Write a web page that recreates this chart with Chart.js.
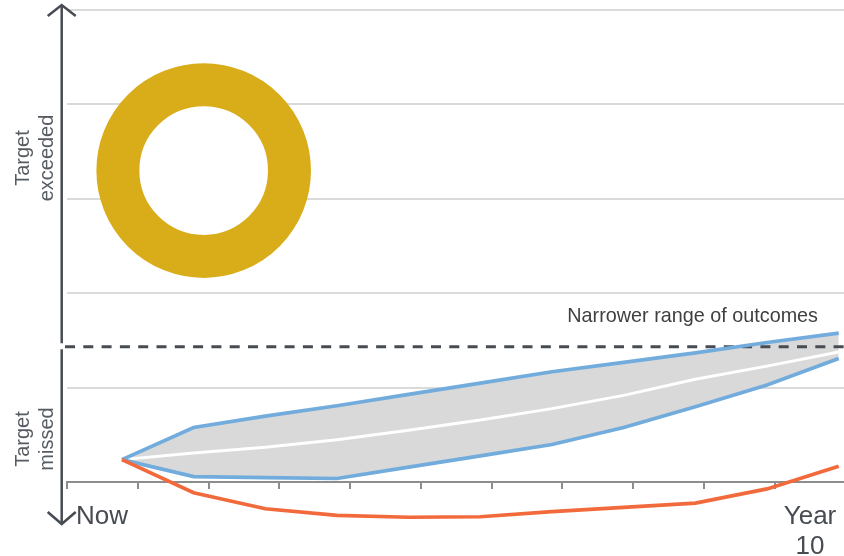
<!DOCTYPE html>
<html>
<head>
<meta charset="utf-8">
<script src="https://cdn.jsdelivr.net/npm/chart.js@4"></script>
<style>
  html, body { margin: 0; padding: 0; background: #ffffff; }
  #wrap { width: 844px; height: 556px; }
</style>
</head>
<body>
<div id="wrap"><canvas id="chart" width="844" height="556"></canvas></div>
<script>
// Years from now (0 = now, 10 = year 10)
const years = [0, 1, 2, 3, 4, 5, 6, 7, 8, 9, 10];

// Range of outcomes relative to the target (0 = baseline, higher = better)
const upperRange = [0.24, 0.58, 0.70, 0.81, 0.93, 1.05, 1.17, 1.27, 1.37, 1.48, 1.58];
const medianPath = [0.24, 0.31, 0.37, 0.45, 0.55, 0.66, 0.78, 0.92, 1.09, 1.23, 1.38];
const lowerRange = [0.24, 0.06, 0.05, 0.04, 0.16, 0.28, 0.40, 0.58, 0.80, 1.03, 1.31];
const shortfallPath = [0.24, -0.11, -0.28, -0.35, -0.37, -0.365, -0.31, -0.265, -0.22, -0.07, 0.17];

// Target level (dashed line)
const targetLevel = 1.435;

// Ring marker in the "exceeded" zone
const ringMarker = [{ x: 1.14, y: 3.30 }];

// Text
const yZoneLabels = [["Target", "exceeded"], ["Target", "missed"]];
const xEndLabels = [["Now"], ["Year", "10"]];
const rangeNote = "Narrower range of outcomes";

const FONT = "'Liberation Sans', Arial, Helvetica, sans-serif";
const AXIS_DARK = "#474c52";
const BLUE = "#72acdd";
const ORANGE = "#f26a3c";
const GOLD = "#d9ad19";
const BAND = "#d9d9d9";

const X_MIN = -0.767, X_MAX = 10.074, X_TICK_STEP = 0.9875;
const Y_MIN = -0.4415, Y_MAX = 5.053;

const decor = {
  id: 'decor',
  afterDatasetDraw(chart, args) {
    // dashed target line sits over the band fill, under the lines
    if (chart.data.datasets[args.index].label !== 'band') return;
    const { ctx, chartArea, scales } = chart;
    const y = scales.y.getPixelForValue(targetLevel);
    ctx.save();
    ctx.strokeStyle = AXIS_DARK;
    ctx.lineWidth = 3;
    ctx.setLineDash([10, 8.3]);
    ctx.beginPath();
    ctx.moveTo(chartArea.left - 2, y);
    ctx.lineTo(chart.width, y);
    ctx.stroke();
    ctx.restore();
  },
  afterDraw(chart) {
    const { ctx, chartArea, scales } = chart;
    const yT = scales.y.getPixelForValue(targetLevel);
    const ax = chartArea.left - 5.3;
    ctx.save();
    ctx.strokeStyle = AXIS_DARK;
    ctx.lineWidth = 2.5;
    ctx.lineCap = 'butt';
    // upper arrow
    ctx.beginPath();
    ctx.moveTo(ax, yT - 3.5);
    ctx.lineTo(ax, chartArea.top + 1);
    ctx.stroke();
    ctx.beginPath();
    ctx.moveTo(ax - 14, chartArea.top + 11);
    ctx.lineTo(ax, chartArea.top);
    ctx.lineTo(ax + 14, chartArea.top + 11);
    ctx.stroke();
    // lower arrow
    ctx.beginPath();
    ctx.moveTo(ax, yT + 2.5);
    ctx.lineTo(ax, chartArea.bottom - 1);
    ctx.stroke();
    ctx.beginPath();
    ctx.moveTo(ax - 14, chartArea.bottom - 12);
    ctx.lineTo(ax, chartArea.bottom);
    ctx.lineTo(ax + 14, chartArea.bottom - 12);
    ctx.stroke();

    // zone labels along the vertical axis
    ctx.fillStyle = "#575c62";
    ctx.font = "20px " + FONT;
    ctx.textAlign = 'center';
    ctx.textBaseline = 'middle';
    const zoneCenters = [158, 439];
    yZoneLabels.forEach((lines, i) => {
      ctx.save();
      ctx.translate(35, zoneCenters[i]);
      ctx.rotate(-Math.PI / 2);
      lines.forEach((t, j) => ctx.fillText(t, 0, (j - (lines.length - 1) / 2) * 24));
      ctx.restore();
    });

    // time labels under the axis
    ctx.fillStyle = AXIS_DARK;
    ctx.font = "26px " + FONT;
    ctx.textBaseline = 'alphabetic';
    ctx.textAlign = 'left';
    ctx.fillText(xEndLabels[0][0], chartArea.left + 9, 524);
    ctx.textAlign = 'center';
    xEndLabels[1].forEach((t, j) => ctx.fillText(t, chartArea.right - 34, 524 + j * 30));

    // note above the target line
    ctx.fillStyle = "#3f3f3f";
    ctx.font = "19.8px " + FONT;
    ctx.textAlign = 'right';
    ctx.textBaseline = 'middle';
    ctx.fillText(rangeNote, chartArea.right - 26, yT - 30);
    ctx.restore();
  }
};

const toXY = arr => arr.map((v, i) => ({ x: years[i], y: v }));

new Chart(document.getElementById('chart'), {
  type: 'line',
  data: {
    datasets: [
      { label: 'shortfall', data: toXY(shortfallPath), borderColor: ORANGE, borderWidth: 3.7, order: 0 },
      { label: 'upper', data: toXY(upperRange), borderColor: BLUE, borderWidth: 3.7, order: 1 },
      { label: 'lower', data: toXY(lowerRange), borderColor: BLUE, borderWidth: 3.7, order: 1 },
      { label: 'median', data: toXY(medianPath), borderColor: '#ffffff', borderWidth: 3, order: 2 },
      { label: 'band', data: toXY(upperRange), borderWidth: 0, borderColor: 'rgba(0,0,0,0)',
        backgroundColor: BAND, fill: 2, order: 3 },
      { label: 'ring', type: 'scatter', data: ringMarker, pointStyle: 'circle', pointRadius: 85.8,
        pointBackgroundColor: '#ffffff', pointBorderColor: GOLD, pointBorderWidth: 43, order: 4, clip: false }
    ]
  },
  options: {
    responsive: false,
    devicePixelRatio: 1,
    animation: false,
    layout: { autoPadding: false, padding: { left: 67, top: 5, right: 0, bottom: 32 } },
    elements: { line: { tension: 0 }, point: { radius: 0, hoverRadius: 0 } },
    plugins: { legend: { display: false }, tooltip: { enabled: false } },
    scales: {
      x: {
        type: 'linear',
        min: X_MIN,
        max: X_MAX,
        position: { y: 0 },
        afterBuildTicks: axis => {
          axis.ticks = Array.from({ length: 11 }, (_, k) => ({ value: X_MIN + k * X_TICK_STEP }));
        },
        ticks: { display: false },
        grid: { drawOnChartArea: false, drawTicks: true, tickLength: 6, color: '#8d8d8d', lineWidth: 2 },
        border: { display: true, color: '#8d8d8d', width: 2 }
      },
      y: {
        type: 'linear',
        min: Y_MIN,
        max: Y_MAX,
        ticks: { display: false, stepSize: 1, includeBounds: false },
        grid: {
          drawTicks: false,
          lineWidth: 2,
          color: ctx => (ctx.tick && ctx.tick.value > 0.5 ? '#dadada' : 'rgba(0,0,0,0)')
        },
        border: { display: false }
      }
    }
  },
  plugins: [decor]
});
</script>
</body>
</html>
